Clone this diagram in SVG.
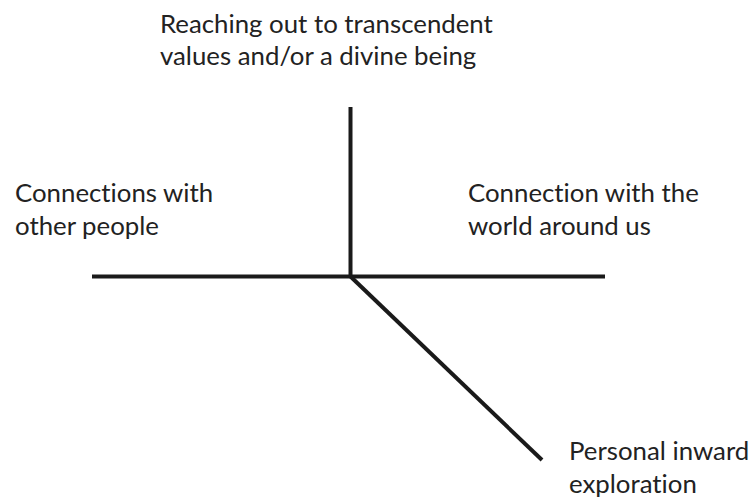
<svg xmlns="http://www.w3.org/2000/svg" width="751" height="502" viewBox="0 0 751 502">
<style>
text{font-family:Lato,"Open Sans","Liberation Sans",sans-serif;font-size:25.8px;fill:#222;font-variant-ligatures:none}
.ln{stroke:#1a1a1a;stroke-width:4;fill:none}
</style>
<rect width="751" height="502" fill="#fff"/>
<g id="connectors">
<line class="ln" x1="350.5" y1="107" x2="350.5" y2="277"/>
<line class="ln" x1="92" y1="276.5" x2="605" y2="276.5"/>
<line class="ln" x1="350.5" y1="276.5" x2="542" y2="460"/>
</g>
<g id="top"><text x="160" y="33">Reaching out to transcendent</text><text x="160" y="65">values and/or a divine being</text></g>
<g id="left"><text x="15" y="202">Connections with</text><text x="15" y="235">other people</text></g>
<g id="right"><text x="468" y="202">Connection with the</text><text x="468" y="235">world around us</text></g>
<g id="bottom"><text x="569" y="460">Personal inward</text><text x="569" y="493">exploration</text></g>
</svg>
